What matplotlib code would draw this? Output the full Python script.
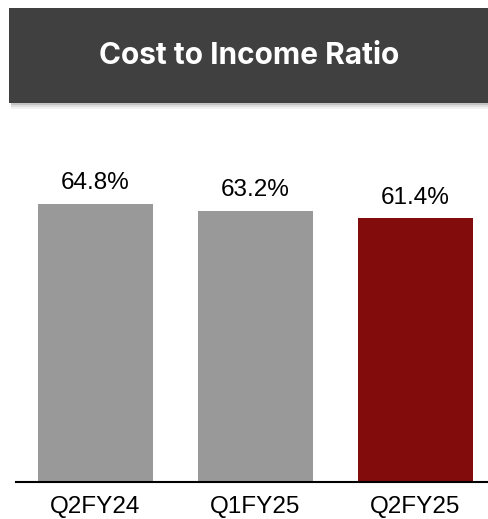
import matplotlib.pyplot as plt
from matplotlib.patches import Rectangle

# Data
quarters = ['Q2FY24', 'Q1FY25', 'Q2FY25']
ratios = [64.8, 63.2, 61.4]
bar_colors = ['#999999', '#999999', '#820B0B']
title = 'Cost to Income Ratio'

W, H = 488, 519
fig = plt.figure(figsize=(W / 100, H / 100), dpi=100)

# title banner with a soft shadow
for i, a in enumerate([0.05, 0.08, 0.12]):
    off = 6 - i * 2
    fig.patches.append(Rectangle((11 / W, (H - 103 - off) / H), 1, 95 / H,
                                 transform=fig.transFigure, color='black',
                                 alpha=a, lw=0, zorder=0))
fig.patches.append(Rectangle((9 / W, (H - 103) / H), 1, 95 / H,
                             transform=fig.transFigure, color='#404040',
                             lw=0, zorder=1))
fig.text(249 / W, (H - 56) / H, title, color='white', fontsize=21.5,
         fontweight='bold', family='Inter', ha='center', va='center', zorder=2)

# bar chart
ax = fig.add_axes([16 / W, (H - 482) / H, (W - 16) / W, 352 / H])
x = range(len(quarters))
bars = ax.bar(x, ratios, width=0.72, color=bar_colors)
for b, v in zip(bars, ratios):
    ax.annotate(f'{v:.1f}%', (b.get_x() + b.get_width() / 2, v),
                xytext=(0, 7), textcoords='offset points', ha='center',
                va='bottom', fontsize=17.5, family='Liberation Sans')

ax.set_xlim(-0.497, 2.453)
ax.set_ylim(0, 82)
ax.set_xticks(list(x))
ax.set_xticklabels(quarters, fontsize=17.5, family='Liberation Sans')
ax.tick_params(axis='x', length=0, pad=10)
ax.set_yticks([])
for s in ['top', 'right', 'left']:
    ax.spines[s].set_visible(False)
ax.spines['bottom'].set_linewidth(1.5)

fig.savefig('out.png', dpi=100)
